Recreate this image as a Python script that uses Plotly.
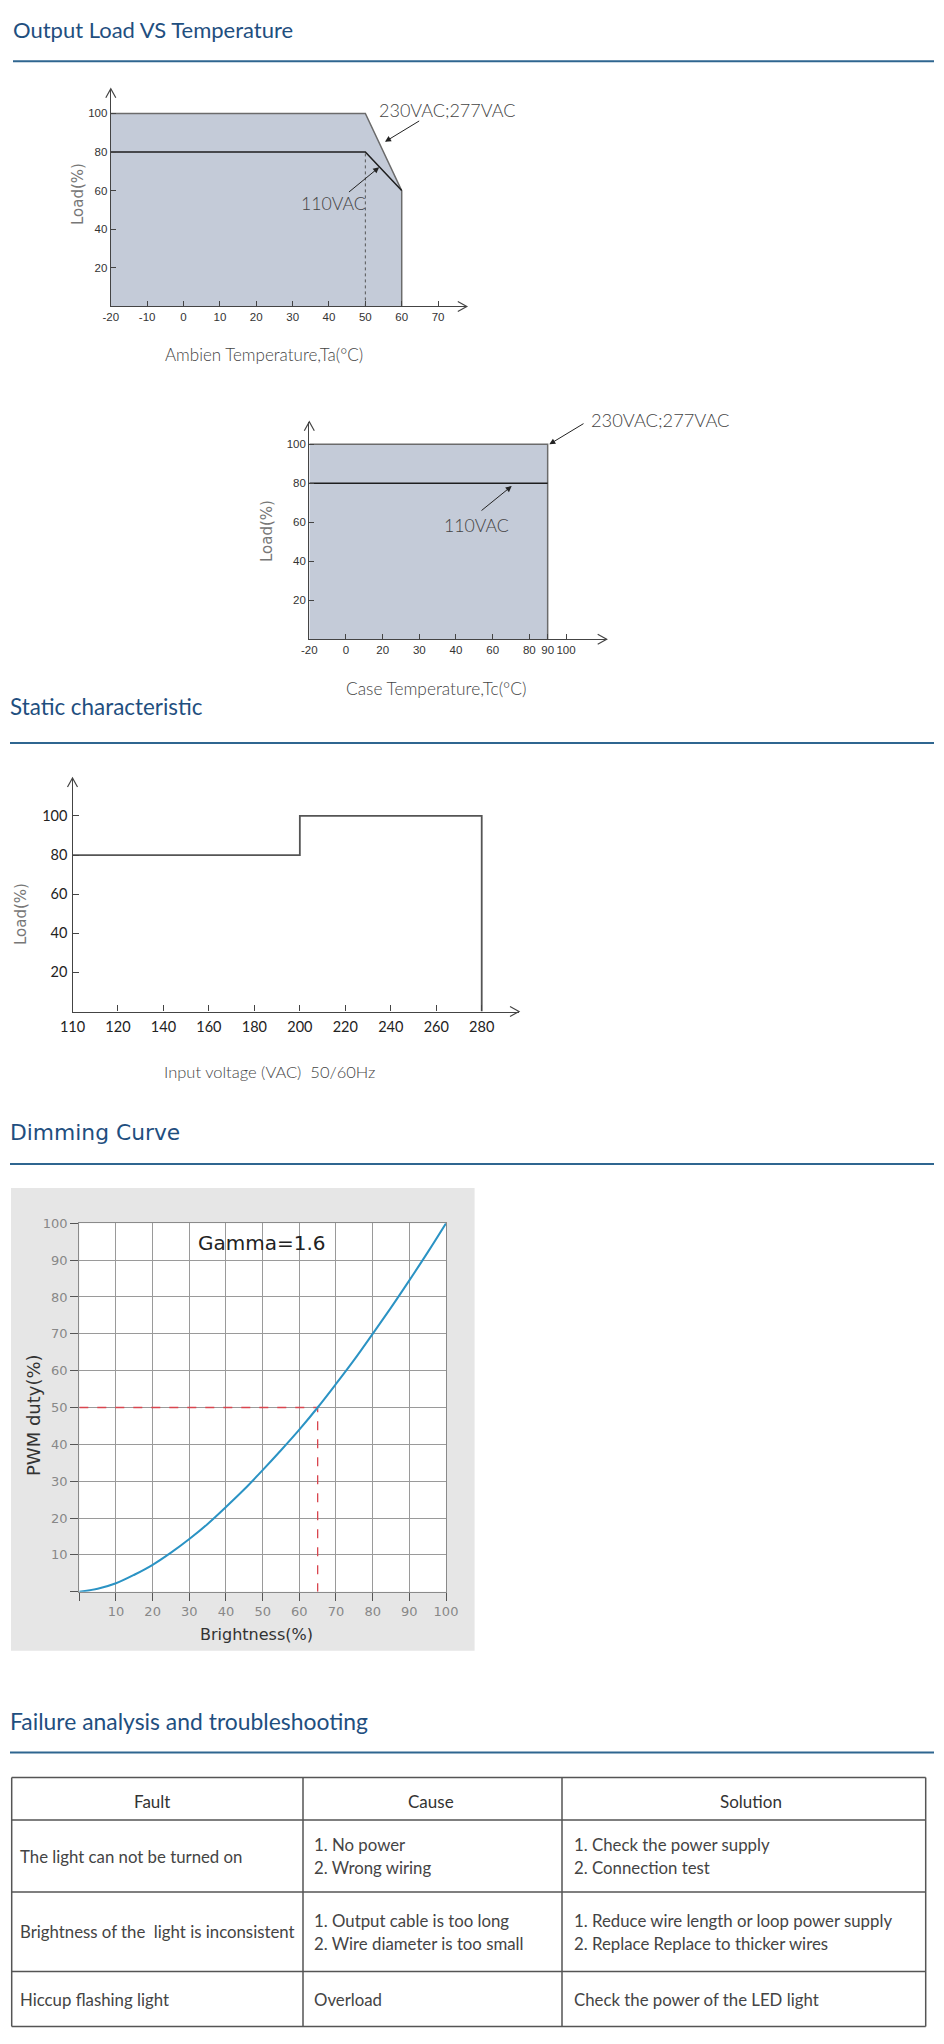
import plotly.graph_objects as go
import numpy as np

W, H = 944, 2044

# ---------------- data ----------------
# Output load vs ambient temperature
amb_temp = [-20, 50, 60]
amb_load_230 = [100, 100, 60]
amb_load_110 = [80, 80, 60]
amb_ticks = [-20, -10, 0, 10, 20, 30, 40, 50, 60, 70]
load_ticks = [20, 40, 60, 80, 100]

# Output load vs case temperature (schematic, non-uniform axis)
case_temp = [-20, 90]
case_load_230 = [100, 100]
case_load_110 = [80, 80]
case_tick_labels = [-20, 0, 20, 30, 40, 60, 80, 90, 100]
case_tick_pos = [0, 1, 2, 3, 4, 5, 6, 6.5, 7]

# Static characteristic
vin = [110, 200, 200, 280, 280]
vin_load = [80, 80, 100, 100, 0]
vin_tick_labels = [110, 120, 140, 160, 180, 200, 220, 240, 260, 280]
vin_tick_pos = [0, 1, 2, 3, 4, 5, 6, 7, 8, 9]

# Dimming curve
brightness = [0, 5, 10, 15, 20, 25, 30, 35, 40, 45, 50, 55, 60, 65, 70, 75, 80, 85, 90, 95, 100]
pwm_duty = [0, 0.8, 2.3, 4.6, 7.3, 10.6, 14.3, 18.4, 23.0, 27.8, 33.0, 38.4, 44.0, 50.0, 56.4, 63.0, 70.0, 77.1, 84.5, 92.1, 100]
ref_brightness = 65
ref_pwm = 50
dim_ticks = [0, 10, 20, 30, 40, 50, 60, 70, 80, 90, 100]

# Troubleshooting table
table_header = ["Fault", "Cause", "Solution"]
faults = ["The light can not be turned on",
          "Brightness of the  light is inconsistent",
          "Hiccup flashing light"]
causes = [["1. No power", "2. Wrong wiring"],
          ["1. Output cable is too long", "2. Wire diameter is too small"],
          ["Overload"]]
solutions = [["1. Check the power supply", "2. Connection test"],
             ["1. Reduce wire length or loop power supply", "2. Replace Replace to thicker wires"],
             ["Check the power of the LED light"]]

# ---------------- helpers ----------------
def PX(px):
    return px / W


def PY(py):
    return 1 - py / H


FUT = "Lato, 'Open Sans', sans-serif"
GOTH = "'DejaVu Sans', Verdana, sans-serif"
ARI = "'Liberation Sans', Arial, sans-serif"
TITLE_C = "#1f4f7f"
RULE_C = "#2f6690"
AX_C = "#444444"

fig = go.Figure()
annotations = []
shapes = []

# subplot boxes in page pixels (left, right) / (top, bottom)
C1X, C1Y = (110.8, 466.8), (88.7, 306.4)
C2X, C2Y = (309.3, 606.7), (421.7, 639.3)
C3X, C3Y = (72.5, 519.0), (778.0, 1011.5)
C4X, C4Y = (79.3, 446.0), (1223.3, 1591.7)


def axis(dom_px, rng, anchor, horizontal, **kw):
    if horizontal:
        dom = [PX(dom_px[0]), PX(dom_px[1])]
    else:
        dom = [PY(dom_px[1]), PY(dom_px[0])]
    d = dict(domain=dom, range=rng, anchor=anchor, showgrid=False, zeroline=False,
             showline=True, linecolor=AX_C, linewidth=1.3, ticks="inside", ticklen=5,
             tickcolor=AX_C, tickwidth=1.2, fixedrange=True, automargin=False)
    d.update(kw)
    return d


def chevrons(bx, by):
    # open arrow heads at the right end of the x axis and the top of the y axis
    shapes.append(dict(type="path", xref="paper", yref="paper", xsizemode="pixel",
                       ysizemode="pixel", xanchor=PX(bx[1]), yanchor=PY(by[1]),
                       path="M-9,5 L0,0 L-9,-5", line=dict(color=AX_C, width=1.2)))
    shapes.append(dict(type="path", xref="paper", yref="paper", xsizemode="pixel",
                       ysizemode="pixel", xanchor=PX(bx[0]), yanchor=PY(by[0]),
                       path="M-5,-9 L0,0 L5,-9", line=dict(color=AX_C, width=1.2)))


def ptr(xref, yref, x, y, ax, ay):
    annotations.append(dict(xref=xref, yref=yref, x=x, y=y, ax=ax, ay=ay, text="",
                            showarrow=True, arrowhead=2, arrowsize=1.2, arrowwidth=1,
                            arrowcolor="#222", standoff=0))


def label(x, y, text, size, color="#444", family=FUT, angle=0, xanchor="center", weight=None):
    f = dict(family=family, size=size, color=color)
    if weight:
        f["weight"] = weight
    annotations.append(dict(xref="paper", yref="paper", x=PX(x), y=PY(y), text=text,
                            showarrow=False, xanchor=xanchor, yanchor="middle",
                            textangle=angle, font=f))


def hline(x0, x1, y, color, width):
    shapes.append(dict(type="line", xref="paper", yref="paper", x0=PX(x0), x1=PX(x1),
                       y0=PY(y), y1=PY(y), line=dict(color=color, width=width)))


def vline(x, y0, y1, color, width):
    shapes.append(dict(type="line", xref="paper", yref="paper", x0=PX(x), x1=PX(x),
                       y0=PY(y0), y1=PY(y1), line=dict(color=color, width=width)))


# ---------------- section titles ----------------
label(11, 29, "Output Load VS Temperature", 22, TITLE_C, xanchor="left")
hline(13, 934, 61.3, RULE_C, 2)
label(8, 707, "Static characteristic", 22.4, TITLE_C, xanchor="left")
hline(10, 934, 743, RULE_C, 2)
label(8, 1132, "Dimming Curve", 21.8, TITLE_C, family=GOTH, xanchor="left")
hline(10, 934, 1164, RULE_C, 2)
label(8, 1721, "Failure analysis and troubleshooting", 22.9, TITLE_C, xanchor="left")
hline(10, 934, 1752.5, RULE_C, 2)

FILL = "#c4cbd8"
LINE_HI = "#6b6b6b"
LINE_LO = "#1e1e1e"

# ---------------- chart 1: ambient temperature ----------------
fig.add_trace(go.Scatter(x=[amb_temp[0]] + amb_temp + [amb_temp[-1]],
                         y=[0] + amb_load_230 + [0], fill="toself", fillcolor=FILL,
                         mode="lines", line=dict(width=0), xaxis="x", yaxis="y",
                         hoverinfo="skip", showlegend=False))
fig.add_trace(go.Scatter(x=amb_temp + [amb_temp[-1]], y=amb_load_230 + [0], mode="lines",
                         line=dict(color=LINE_HI, width=1.5), xaxis="x", yaxis="y",
                         showlegend=False))
fig.add_trace(go.Scatter(x=amb_temp, y=amb_load_110, mode="lines",
                         line=dict(color=LINE_LO, width=1.5), xaxis="x", yaxis="y",
                         showlegend=False))
fig.add_trace(go.Scatter(x=[amb_temp[1], amb_temp[1]], y=[0, amb_load_110[1]], mode="lines",
                         line=dict(color="#555", width=1, dash="dot"), xaxis="x", yaxis="y",
                         showlegend=False))

# ---------------- chart 2: case temperature ----------------
case_x = list(np.interp(case_temp, case_tick_labels, case_tick_pos))
fig.add_trace(go.Scatter(x=[case_x[0]] + case_x + [case_x[-1]], y=[0] + case_load_230 + [0],
                         fill="toself", fillcolor=FILL, mode="lines", line=dict(width=0),
                         xaxis="x2", yaxis="y2", hoverinfo="skip", showlegend=False))
fig.add_trace(go.Scatter(x=case_x + [case_x[-1]], y=case_load_230 + [0], mode="lines",
                         line=dict(color=LINE_HI, width=1.5), xaxis="x2", yaxis="y2",
                         showlegend=False))
fig.add_trace(go.Scatter(x=case_x, y=case_load_110, mode="lines",
                         line=dict(color=LINE_LO, width=1.5), xaxis="x2", yaxis="y2",
                         showlegend=False))

# ---------------- chart 3: static characteristic ----------------
vin_x = list(np.interp(vin, vin_tick_labels, vin_tick_pos))
fig.add_trace(go.Scatter(x=vin_x, y=vin_load, mode="lines",
                         line=dict(color="#555", width=1.8), xaxis="x3", yaxis="y3",
                         showlegend=False))

# ---------------- chart 4: dimming curve ----------------
shapes.append(dict(type="rect", xref="paper", yref="paper", x0=PX(11), x1=PX(474.6),
                   y0=PY(1650.7), y1=PY(1188), fillcolor="#e6e6e6", line=dict(width=0),
                   layer="below"))
shapes.append(dict(type="rect", xref="x4 domain", yref="y4 domain", x0=0, x1=1, y0=0, y1=1,
                   fillcolor="white", line=dict(width=0), layer="below"))
fig.add_trace(go.Scatter(x=[0, ref_brightness, ref_brightness], y=[ref_pwm, ref_pwm, 0],
                         mode="lines", line=dict(color="#d9464f", width=1.3, dash="dash"),
                         xaxis="x4", yaxis="y4", showlegend=False))
fig.add_trace(go.Scatter(x=brightness, y=pwm_duty, mode="lines", line_shape="spline",
                         line=dict(color="#2b93c4", width=2), xaxis="x4", yaxis="y4",
                         showlegend=False))

# ---------------- axes ----------------
tf_small = dict(family=ARI, size=11.5, color="#333")
tf_big = dict(family=FUT, size=14.5, color="#222")
dim_common = dict(range=[0, 100], showgrid=True, gridcolor="#9a9a9a", gridwidth=1,
                  zeroline=False, showline=True, linecolor="#8a8a8a", linewidth=1.2,
                  mirror=True, ticks="outside", ticklen=8, tickcolor="#555",
                  tickvals=dim_ticks, ticktext=[""] + [str(v) for v in dim_ticks[1:]],
                  tickfont=dict(family=GOTH, size=13, color="#888"), fixedrange=True,
                  automargin=False)
lay = dict(
    xaxis=axis(C1X, [-20, 77.9], "y", True, tickvals=amb_ticks,
               ticktext=[str(v) for v in amb_ticks], tickfont=tf_small),
    yaxis=axis(C1Y, [0, 112.8], "x", False, tickvals=load_ticks,
               ticktext=[str(v) for v in load_ticks], tickfont=tf_small),
    xaxis2=axis(C2X, [0, 8.11], "y2", True, tickvals=case_tick_pos,
                ticktext=[str(v) for v in case_tick_labels], tickfont=tf_small),
    yaxis2=axis(C2Y, [0, 111.6], "x2", False, tickvals=load_ticks,
                ticktext=[str(v) for v in load_ticks], tickfont=tf_small),
    xaxis3=axis(C3X, [0, 9.82], "y3", True, tickvals=vin_tick_pos,
                ticktext=[str(v) for v in vin_tick_labels], ticklen=6,
                tickfont=tf_big, ticklabelstandoff=2),
    yaxis3=axis(C3Y, [0, 119.4], "x3", False, tickvals=load_ticks,
                ticktext=[str(v) for v in load_ticks], ticklen=6,
                tickfont=tf_big, ticklabelstandoff=1),
    xaxis4=dict(domain=[PX(C4X[0]), PX(C4X[1])], anchor="y4", **dim_common),
    yaxis4=dict(domain=[PY(C4Y[1]), PY(C4Y[0])], anchor="x4", **dim_common),
)

for bx, by in ((C1X, C1Y), (C2X, C2Y), (C3X, C3Y)):
    chevrons(bx, by)

# chart labels
label(78, 194, "Load(%)", 15, "#777", family=GOTH, angle=-90)
label(264, 355, "Ambien Temperature,Ta(°C)", 17, "#444", weight=300)
label(447, 110, "230VAC;277VAC", 18, "#444", weight=300)
label(333.6, 203.3, "110VAC", 17.7, "#444", weight=300)
ptr("x", "y", 55.4, 85.3, 35.7, -21.7)
ptr("x", "y", 53.8, 72.1, -31.7, 26)

label(267, 531, "Load(%)", 15, "#777", family=GOTH, angle=-90)
label(436, 688.5, "Case Temperature,Tc(°C)", 17.3, "#444", weight=300)
label(589, 420, "230VAC;277VAC", 18.3, "#444", xanchor="left", weight=300)
label(476.7, 525, "110VAC", 17.7, "#444", weight=300)
ptr("x2", "y2", 6.545, 100, 35.7, -21.6)
ptr("x2", "y2", 5.52, 78.6, -31.7, 25.7)

label(21, 914, "Load(%)", 15, "#777", family=GOTH, angle=-90)
label(269, 1072, "Input voltage (VAC)\u00a0 50/60Hz", 16.5, "#444", weight=300)

label(262, 1243, "Gamma=1.6", 20, "#222", family=GOTH)
label(256, 1634, "Brightness(%)", 16, "#333", family=GOTH)
label(33, 1415, "PWM duty(%)", 18, "#333", family=GOTH, angle=-90)

# ---------------- table ----------------
TB = "#555"
row_y = [1777.5, 1820, 1892, 1971.5, 2026.5]
col_x = [11.7, 303, 562, 925.7]
for yy in row_y:
    hline(col_x[0], col_x[-1], yy, TB, 1.5)
for xx in col_x:
    vline(xx, row_y[0], row_y[-1], TB, 1.5)

for cx, t in zip([152, 431, 751], table_header):
    label(cx, 1801, t, 17, "#333")

text_left = [18, 312, 571.5]
row_centers = [(row_y[i + 1] + row_y[i + 2]) / 2 for i in range(3)]
LS = 22.5
for i in range(3):
    yc = row_centers[i]
    label(text_left[0], yc, faults[i], 16.8, "#444", xanchor="left")
    for col, lines in ((1, causes[i]), (2, solutions[i])):
        n = len(lines)
        for k, ln in enumerate(lines):
            label(text_left[col], yc + (k - (n - 1) / 2) * LS, ln, 16.8, "#444", xanchor="left")

fig.update_layout(width=W, height=H, margin=dict(l=0, r=0, t=0, b=0, pad=0, autoexpand=False),
                  autosize=False, paper_bgcolor="white", plot_bgcolor="rgba(0,0,0,0)",
                  showlegend=False, annotations=annotations, shapes=shapes, **lay)

fig.write_html("out.html")
